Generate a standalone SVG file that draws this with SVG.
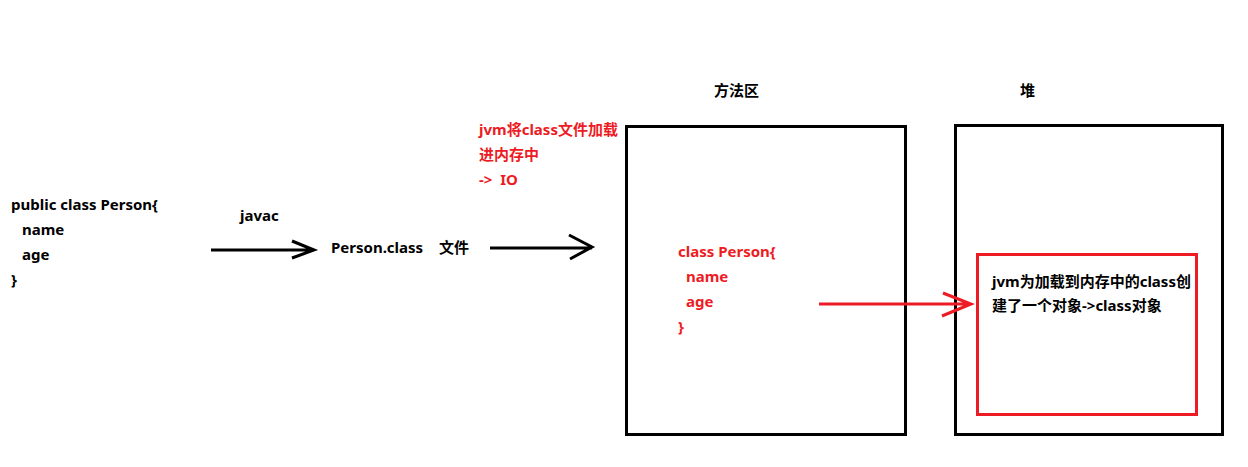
<svg xmlns="http://www.w3.org/2000/svg" width="1248" height="467" viewBox="0 0 1248 467">
<style>
text{font-family:"Noto Sans","Noto Sans CJK SC",sans-serif;font-weight:bold;font-size:15px;white-space:pre;}
.k{fill:#000;}
.r{fill:#ed1c24;}
.lk{stroke:#000;stroke-width:3;fill:none;}
.lr{stroke:#ed1c24;stroke-width:3;fill:none;}
</style>
<rect width="1248" height="467" fill="#fff"/>
<g id="source">
<text class="k" x="11" y="210">public class Person{</text>
<text class="k" x="22" y="235">name</text>
<text class="k" x="22" y="260">age</text>
<text class="k" x="11" y="285">}</text>
</g>
<g id="classfile">
<text class="k" x="331" y="253">Person.class</text>
<text class="k" x="439" y="253">文件</text>
</g>
<g id="load-note">
<text class="r" x="479" y="135">jvm将class文件加载</text>
<text class="r" x="479" y="160">进内存中</text>
<text class="r" x="479" y="185" xml:space="preserve">-&gt;  IO</text>
</g>
<g id="method-area">
<text class="k" x="714" y="96">方法区</text>
<rect class="lk" x="626.5" y="126.5" width="279" height="308"/>
<text class="r" x="678" y="257">class Person{</text>
<text class="r" x="686" y="282">name</text>
<text class="r" x="686" y="307">age</text>
<text class="r" x="678" y="332">}</text>
</g>
<g id="heap">
<text class="k" x="1020" y="96">堆</text>
<rect class="lk" x="955.5" y="125.5" width="267" height="309"/>
</g>
<g id="class-object">
<rect class="lr" x="977.5" y="254.5" width="219" height="160"/>
<text class="k" x="992" y="287">jvm为加载到内存中的class创</text>
<text class="k" x="992" y="311">建了一个对象-&gt;class对象</text>
</g>
<g id="connectors">
<text class="k" x="240" y="221">javac</text>
<path class="lk" d="M211 250H314M292 241L314 250L292 258"/>
<path class="lk" d="M490 248H592M569 235L592 247L570 259"/>
<path class="lr" d="M819 304H971M943 293L971 304L942 316"/>
</g>
</svg>
